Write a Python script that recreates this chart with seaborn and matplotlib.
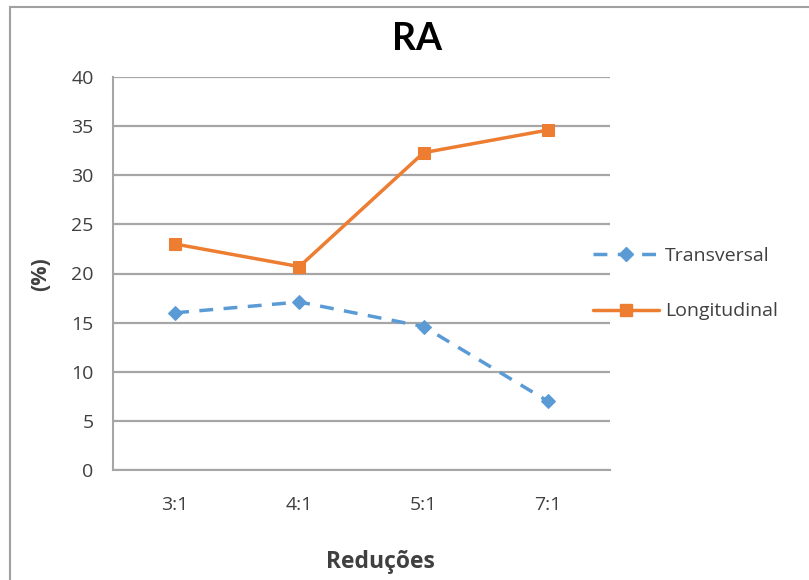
import matplotlib
matplotlib.use("Agg")
import matplotlib.pyplot as plt
import seaborn as sns
import pandas as pd
from matplotlib.patches import Rectangle
from matplotlib.lines import Line2D

# Data
reducoes = ["3:1", "4:1", "5:1", "7:1"]
transversal = [16.0, 17.1, 14.6, 7.0]
longitudinal = [23.0, 20.7, 32.3, 34.6]
y_ticks = [0, 5, 10, 15, 20, 25, 30, 35, 40]

BLUE = "#5B9BD5"
ORANGE = "#ED7D31"
GRID = "#A6A6A6"
TEXT = "#404040"

sns.set_theme(style="white")
plt.rcParams["font.family"] = ["Open Sans", "DejaVu Sans"]

df = pd.DataFrame({
    "Reduções": reducoes * 2,
    "valor": transversal + longitudinal,
    "série": ["Transversal"] * 4 + ["Longitudinal"] * 4,
})
df["pos"] = list(range(len(reducoes))) * 2

fig = plt.figure(figsize=(8.09, 5.80), dpi=100)
ax = fig.add_axes([113 / 809, 1 - 470 / 580, (610 - 113) / 809, (470 - 77) / 580])

# Chart frame
fig.patches.append(Rectangle((10 / 809, -0.1), 1.2, 1 - 7 / 580 + 0.1,
                             transform=fig.transFigure, fill=False,
                             edgecolor="#A0A0A0", linewidth=1.5, zorder=0))

sns.lineplot(data=df[df["série"] == "Transversal"], x="pos", y="valor", ax=ax,
             color=BLUE, linewidth=2.5, linestyle=(0, (4, 3)), marker="D",
             markersize=7, markeredgecolor=BLUE, legend=False)
sns.lineplot(data=df[df["série"] == "Longitudinal"], x="pos", y="valor", ax=ax,
             color=ORANGE, linewidth=2.5, marker="s", markersize=9,
             markeredgecolor=ORANGE, legend=False)

ax.set_xlim(-0.5, len(reducoes) - 0.5)
ax.set_ylim(0, 40)
ax.set_yticks(y_ticks)
ax.set_yticklabels([str(v) for v in y_ticks], fontsize=14, color=TEXT)
ax.set_xticks(range(len(reducoes)))
ax.set_xticklabels(reducoes, fontsize=14, color=TEXT)
ax.set_xticks([i - 0.5 for i in range(len(reducoes) + 1)], minor=True)
ax.tick_params(axis="x", which="major", length=0, pad=19)
ax.tick_params(axis="x", which="minor", length=6, width=1.3, color=GRID, direction="out")
ax.tick_params(axis="y", length=6, width=1.3, color=GRID, direction="out", pad=8)
ax.grid(axis="y", color=GRID, linewidth=1.6)
ax.set_axisbelow(True)
for side in ["top", "right"]:
    ax.spines[side].set_visible(False)
for side in ["left", "bottom"]:
    ax.spines[side].set_color(GRID)
    ax.spines[side].set_linewidth(1.5)
ax.set_xlabel("")
ax.set_ylabel("")

fig.text(417 / 809, 1 - 39 / 580, "RA", ha="center", va="center",
         fontsize=27, fontweight="bold", color="black", family=["Lato", "DejaVu Sans"])
fig.text(380 / 809, 1 - 568 / 580, "Reduções", ha="center", va="baseline",
         fontsize=16.5, fontweight="bold", color=TEXT)
fig.text(41 / 809, 1 - 274 / 580, "(%)", ha="center", va="center",
         rotation=90, fontsize=15.5, fontweight="bold", color=TEXT)

handles = [
    Line2D([], [], color=BLUE, linewidth=2.5, linestyle=(0, (4, 3)), marker="D",
           markersize=7),
    Line2D([], [], color=ORANGE, linewidth=2.5, marker="s", markersize=9),
]
fig.legend(handles, ["Transversal", "Longitudinal"], loc="center left",
           bbox_to_anchor=(593 / 809, 1 - 283.5 / 580), frameon=False,
           borderaxespad=0, borderpad=0,
           fontsize=14, labelcolor=TEXT, handlelength=3.4, handletextpad=0.3,
           labelspacing=1.95)

fig.savefig("out.png", dpi=100)
